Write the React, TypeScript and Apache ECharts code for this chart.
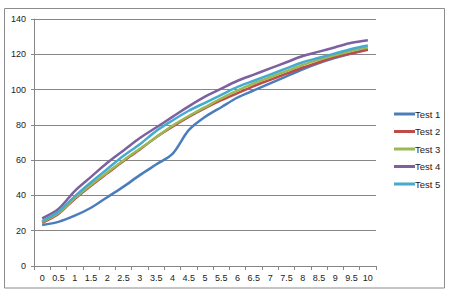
import React, { useEffect, useRef } from "react";
import * as echarts from "echarts";

const categories = ["0", "0.5", "1", "1.5", "2", "2.5", "3", "3.5", "4", "4.5", "5", "5.5", "6", "6.5", "7", "7.5", "8", "8.5", "9", "9.5", "10"];
const test1 = [23.2, 25, 28.5, 33, 39, 45, 51.5, 57.5, 63.5, 77, 84.5, 90, 95.5, 99.5, 103.5, 107.5, 111.5, 115, 118, 120.5, 123];
const test2 = [24.5, 29.5, 38, 45.5, 52.5, 59.5, 66, 73, 79, 84.5, 89.5, 94, 98, 102, 105.5, 109, 112.5, 115.5, 118.5, 120.5, 122.5];
const test3 = [25, 30, 38.5, 46, 53, 60, 66.5, 73, 79.5, 85, 90, 95, 99.5, 103.5, 107, 110.5, 114, 117, 119.5, 122, 123.8];
const test4 = [27, 32.3, 42.5, 50.5, 58.5, 65.5, 72.5, 78.5, 84.5, 90.5, 96, 100.5, 105, 108.5, 112, 115.5, 119, 121.5, 124, 126.5, 128];
const test5 = [25.5, 30.8, 39.5, 47.5, 55, 62.5, 69, 76.5, 82.5, 88, 92.5, 97, 101.5, 105, 108.5, 112, 115.5, 118, 120.5, 123, 125];
const seriesNames = ["Test 1", "Test 2", "Test 3", "Test 4", "Test 5"];
const seriesData = [test1, test2, test3, test4, test5];
const colors = ["#4A7EBB", "#BE4B48", "#98B954", "#7D60A0", "#46AACE"];

const FONT = "Liberation Sans, Arial, sans-serif";

export default function App() {
  const ref = useRef<HTMLDivElement>(null);
  useEffect(() => {
    if (!ref.current) return;
    const chart = echarts.init(ref.current, undefined, { renderer: "svg" });
    chart.setOption({
      animation: false,
      backgroundColor: "#ffffff",
      color: colors,
      graphic: [
        {
          type: "rect",
          shape: { x: 4.5, y: 8.5, width: 440, height: 279.5 },
          style: { fill: "none", stroke: "#8c8c8c", lineWidth: 1 },
          silent: true,
        },
      ],
      grid: { left: 34, right: 74, top: 19, bottom: 33, containLabel: false },
      legend: {
        orient: "vertical",
        left: 389,
        top: 103,
        itemWidth: 21,
        itemHeight: 3,
        itemGap: 5.5,
        icon: "rect",
        textStyle: { fontFamily: FONT, fontSize: 9.5, color: "#222", lineHeight: 12, padding: [0, 0, 0, -5] },
        data: seriesNames,
      },
      xAxis: {
        type: "category",
        data: categories,
        boundaryGap: true,
        axisLine: { show: true, lineStyle: { color: "#868686", width: 1 } },
        axisTick: { show: true, length: 4, lineStyle: { color: "#868686" } },
        axisLabel: { fontFamily: FONT, fontSize: 9, color: "#222", margin: 7, interval: 0 },
        splitLine: { show: false },
      },
      yAxis: {
        type: "value",
        min: 0,
        max: 140,
        interval: 20,
        axisLine: { show: true, lineStyle: { color: "#868686", width: 1 } },
        axisTick: { show: true, length: 3, lineStyle: { color: "#868686" } },
        axisLabel: { fontFamily: FONT, fontSize: 9, color: "#222", margin: 8 },
        splitLine: { show: true, lineStyle: { color: "#868686", width: 1 } },
      },
      series: seriesNames.map((name, i) => ({
        name,
        type: "line",
        data: seriesData[i],
        smooth: 0.3,
        showSymbol: false,
        symbol: "none",
        lineStyle: { width: 2.5, color: colors[i] },
        itemStyle: { color: colors[i] },
      })),
    });
    return () => chart.dispose();
  }, []);
  return (
    <div
      ref={ref}
      style={{ position: "fixed", left: 0, top: 0, width: 450, height: 299, background: "#fff" }}
    />
  );
}
